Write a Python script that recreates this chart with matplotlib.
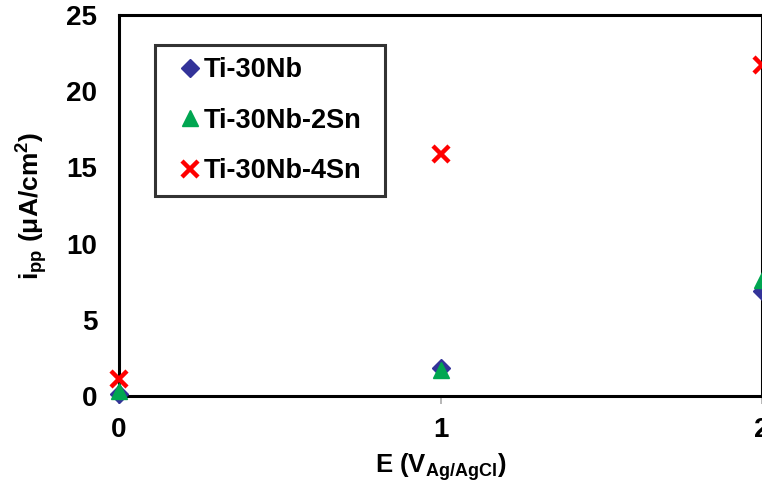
import matplotlib
matplotlib.use("Agg")
import matplotlib.pyplot as plt

# Passive current density vs. applied potential for three alloys
potential = [0, 1, 2]
ti30nb = [0.15, 1.85, 6.9]
ti30nb_2sn = [0.3, 1.7, 7.6]
ti30nb_4sn = [1.1, 15.9, 21.7]
series_labels = ["Ti-30Nb", "Ti-30Nb-2Sn", "Ti-30Nb-4Sn"]

plt.rcParams["font.family"] = ["Liberation Sans", "DejaVu Sans"]
plt.rcParams["font.weight"] = "bold"
plt.rcParams["mathtext.fontset"] = "custom"
plt.rcParams["mathtext.bf"] = "Liberation Sans:bold"
plt.rcParams["mathtext.rm"] = "Liberation Sans:bold"
plt.rcParams["mathtext.default"] = "bf"

fig = plt.figure(figsize=(7.62, 4.86), dpi=100)
ax = fig.add_axes([119 / 762, 90 / 486, 643 / 762, 381 / 486])

ax.plot(potential, ti30nb, linestyle="none", marker="D", ms=9,
        color="#333399", label=series_labels[0], clip_on=False, zorder=3)
ax.plot(potential, ti30nb_2sn, linestyle="none", marker="^", ms=12,
        color="#00A651", label=series_labels[1], clip_on=False, zorder=4)
ax.plot(potential, ti30nb_4sn, linestyle="none", marker="x", ms=11, mew=3.2,
        color="#FF0000", label=series_labels[2], clip_on=False, zorder=5)

ax.set_xlim(0, 2)
ax.set_ylim(0, 25)
ax.set_xticks([0, 1, 2])
ax.set_yticks([0, 5, 10, 15, 20, 25])
ax.tick_params(axis="x", direction="out", length=6, width=1.2, color="#aaaaaa",
               labelsize=20, pad=9)
ax.tick_params(axis="y", length=0, labelsize=20, pad=15.5)
for lbl in ax.get_xticklabels() + ax.get_yticklabels():
    lbl.set_fontweight("bold")

for sp in ax.spines.values():
    sp.set_linewidth(2.2)
    sp.set_color("black")

ax.set_xlabel(r"E (V$_{Ag/AgCl}$)", fontsize=18.5, fontweight="bold", labelpad=6)
ax.set_ylabel(r"i$_{pp}$ (μA/cm$^{2}$)", fontsize=19, fontweight="bold", labelpad=12)

leg = ax.legend(loc="upper left", bbox_to_anchor=(0.056, 0.533, 0.358, 0.388),
                mode="expand", fontsize=19.5, frameon=True, fancybox=False,
                handletextpad=-0.32, handlelength=1.66, borderpad=0.45,
                labelspacing=0.9, borderaxespad=0)
leg.get_frame().set_edgecolor("black")
leg.get_frame().set_linewidth(2.2)
for t in leg.get_texts():
    t.set_fontweight("bold")

fig.savefig("out.png", dpi=100)
